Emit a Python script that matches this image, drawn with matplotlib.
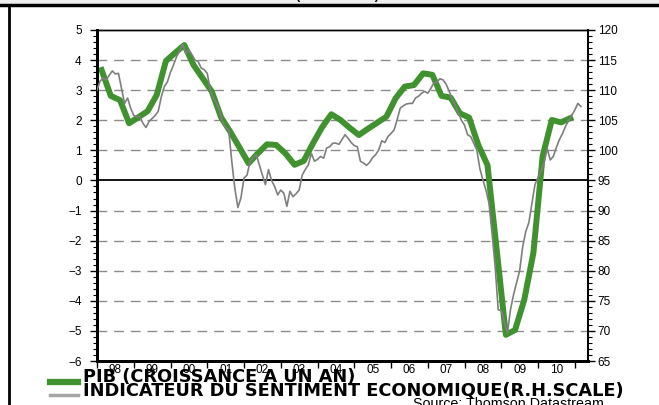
import numpy as np
import matplotlib.pyplot as plt
from matplotlib.lines import Line2D
from matplotlib.patches import Rectangle
from matplotlib.ticker import MultipleLocator, FixedLocator, NullFormatter

plt.rcParams['font.family'] = ['Liberation Sans', 'DejaVu Sans']

# GDP, year-on-year growth (%), quarterly from 1998 Q1
pib_start = 1998.125
pib = [3.67, 2.81, 2.67, 1.90, 2.10, 2.30, 2.84, 3.97, 4.24, 4.50,
       3.84, 3.40, 2.95, 2.10, 1.62, 1.10, 0.57, 0.90, 1.20, 1.18,
       0.90, 0.52, 0.65, 1.23, 1.77, 2.20, 2.01, 1.75, 1.51, 1.72,
       1.92, 2.12, 2.73, 3.12, 3.17, 3.56, 3.51, 2.81, 2.75, 2.23,
       2.09, 1.18, 0.51, -2.30, -5.13, -4.97, -3.97, -2.40, 0.80, 2.01,
       1.93, 2.07]

# economic sentiment indicator (right scale), monthly from Jan 1998
esi_start = 1998.0
esi = [110.0, 111.5, 112.0, 111.7, 112.5, 113.2, 112.7, 112.8, 110.3, 107.8,
       108.7, 107.0, 105.8, 105.6, 105.6, 104.5, 103.8, 104.8, 105.3, 105.8,
       106.5, 108.9, 110.6, 111.4, 113.0, 114.2, 115.6, 116.5, 117.6, 116.1,
       116.7, 115.9, 115.0, 114.8, 113.7, 113.4, 112.8, 110.0, 108.7, 107.8,
       106.7, 104.8, 103.8, 103.4, 98.2, 93.7, 90.5, 92.1, 95.4, 95.9,
       98.2, 98.8, 99.3, 97.6, 95.9, 94.3, 96.8, 95.0, 94.0, 92.6,
       93.4, 92.9, 90.7, 93.2, 92.3, 92.8, 93.4, 95.9, 96.8, 97.6,
       99.5, 98.2, 98.5, 99.0, 98.7, 100.4, 100.6, 101.2, 101.2, 101.0,
       101.8, 102.6, 102.0, 101.3, 100.8, 100.6, 98.2, 97.9, 97.5, 98.0,
       98.8, 99.3, 100.1, 101.6, 101.3, 102.3, 102.8, 103.4, 105.1, 107.0,
       107.4, 107.7, 107.8, 107.8, 108.7, 109.0, 109.5, 109.8, 109.5, 110.3,
       111.2, 111.4, 111.9, 111.7, 111.0, 109.8, 108.5, 107.5, 106.2, 105.0,
       104.2, 102.6, 102.3, 101.2, 100.1, 97.0, 95.1, 93.4, 91.2, 86.2,
       80.7, 73.5, 73.4, 71.5, 69.6, 73.5, 76.0, 78.0, 80.0, 84.0,
       86.5, 88.0, 91.2, 94.3, 95.5, 96.5, 98.0, 100.3, 98.4, 99.0,
       100.5, 101.8, 102.8, 104.0, 105.0, 105.8, 106.7, 107.8, 107.3]

years = list(range(1998, 2011))
year_labels = [f"{y % 100:02d}" for y in years]

green = '#3f922e'
grey = '#7f7f7f'

pib_x = pib_start + np.arange(len(pib)) / 4
esi_x = esi_start + np.arange(len(esi)) / 12

W, H = 659, 405
fig = plt.figure(figsize=(W / 100, H / 100), dpi=100)

# light header strip and frame lines (the picture is a crop of a larger page)
fig.patches.append(Rectangle((0, 1 - 4 / H), 1, 4 / H, transform=fig.transFigure,
                             color='#efefef', zorder=0))
fig.add_artist(Line2D([0, 1], [1 - 4.5 / H] * 2, color='black', lw=2.5))
fig.add_artist(Line2D([8.5 / W] * 2, [0, 1 - 4.5 / H], color='black', lw=2))
fig.text(338 / W, 1 + 1 / H, "(ZONE EURO)", fontsize=9, fontweight='bold',
         ha='center', va='baseline')

ax = fig.add_axes([97 / W, 1 - 361 / H, (588 - 97) / W, (361 - 30) / H])
ax2 = ax.twinx()

ax.set_xlim(1998.0, 2011.36)
ax.set_ylim(-6, 5)
ax2.set_ylim(65, 120)

# dashed grid and solid zero line
for v in range(-5, 5):
    if v != 0:
        ax.axhline(v, color='#8c8c8c', lw=1, ls=(0, (7, 5)), zorder=1)
ax.axhline(0, color='black', lw=1.3, zorder=2)

ax.plot(pib_x, pib, color=green, lw=4.3, zorder=3)
ax2.plot(esi_x, esi, color=grey, lw=1.2, zorder=3)

# y axes
ax.set_yticks(range(-6, 6))
ax.yaxis.set_minor_locator(MultipleLocator(0.2))
ax2.set_yticks(range(65, 121, 5))
ax2.yaxis.set_minor_locator(MultipleLocator(1))
ax.tick_params(axis='y', which='major', length=5, width=1, labelsize=8.5, pad=6)
ax.tick_params(axis='y', which='minor', length=3, width=0.8)
ax2.tick_params(axis='y', which='major', length=5, width=1, labelsize=8.5, pad=2)
ax2.tick_params(axis='y', which='minor', length=3, width=0.8)

# x axis: ticks at year boundaries, labels at mid-year
ax.xaxis.set_major_locator(FixedLocator(range(1998, 2012)))
ax.xaxis.set_major_formatter(NullFormatter())
ax.xaxis.set_minor_locator(FixedLocator([y + 0.5 for y in years]))
ax.set_xticklabels(year_labels, minor=True)
ax.tick_params(axis='x', which='major', length=5, width=1)
ax.tick_params(axis='x', which='minor', length=0, labelsize=8.5, pad=2)

for a in (ax, ax2):
    a.spines['left'].set_linewidth(2)
    a.spines['bottom'].set_linewidth(2)
    a.spines['right'].set_linewidth(1.3)
    a.spines['top'].set_linewidth(1)
    a.patch.set_alpha(0)

# legend
fig.add_artist(Line2D([50 / W, 78 / W], [1 - 382 / H] * 2, color=green, lw=4.5))
fig.add_artist(Line2D([50 / W, 78 / W], [1 - 395 / H] * 2, color='#a6a6a6', lw=2.5))
fig.text(83 / W, 1 - 382 / H, "PIB (CROISSANCE A UN AN)", fontsize=12.8,
         fontweight='bold', family='DejaVu Sans', va='baseline')
fig.text(83 / W, 1 - 395 / H, "INDICATEUR DU SENTIMENT ECONOMIQUE(R.H.SCALE)",
         fontsize=12.8, fontweight='bold', family='DejaVu Sans', va='baseline')
fig.text(413 / W, 1 - 408 / H, "Source: Thomson Datastream", fontsize=10.3,
         va='baseline')

fig.savefig('out.png', dpi=100)
